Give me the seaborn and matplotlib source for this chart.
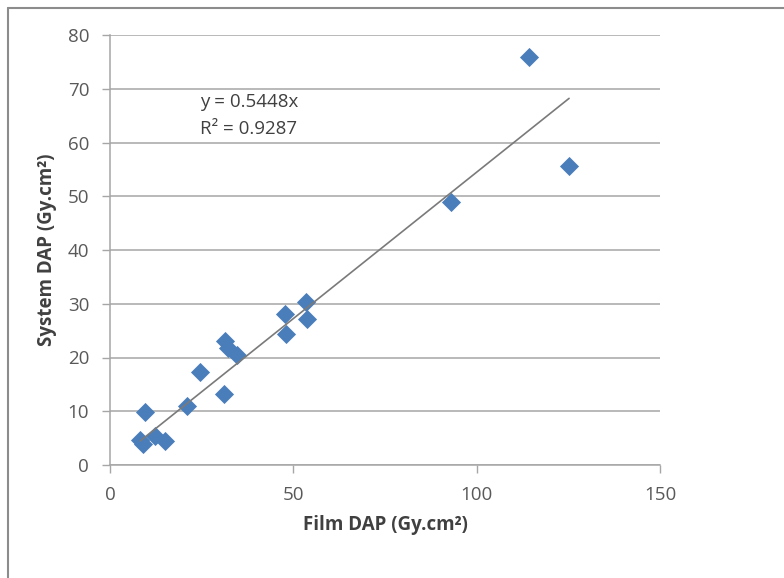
import matplotlib
matplotlib.use("Agg")
import matplotlib.pyplot as plt
import seaborn as sns
import pandas as pd
from matplotlib.lines import Line2D

# values
film_dap = [114.3, 125.2, 93.0, 53.5, 47.7, 53.7, 48.0, 31.4, 32.2, 34.6,
            24.5, 21.0, 31.1, 9.5, 8.2, 9.0, 12.3, 15.0]
system_dap = [75.9, 55.6, 48.9, 30.3, 28.1, 27.2, 24.4, 23.1, 21.8, 20.5,
              17.3, 11.0, 13.2, 9.9, 4.7, 4.0, 5.4, 4.5]
slope = 0.5448
r_squared = 0.9287
x_ticks = [0, 50, 100, 150]
y_ticks = [0, 10, 20, 30, 40, 50, 60, 70, 80]

df = pd.DataFrame({'film': film_dap, 'system': system_dap})

sns.set_style('white')
plt.rcParams['font.family'] = ['Open Sans', 'DejaVu Sans']

fig = plt.figure(figsize=(7.84, 5.78), dpi=100)
ax = fig.add_axes([110 / 784, 1 - 465 / 578, 550 / 784, 430 / 578])

# horizontal gridlines
for yv in y_ticks:
    ax.axhline(yv, color='#a6a6a6', lw=1.1, zorder=0)

sns.scatterplot(data=df, x='film', y='system', marker='D', s=95,
                color='#4a7ebb', edgecolor='#4a7ebb', linewidth=0,
                ax=ax, zorder=3)

# linear trendline through origin
x_line = [min(film_dap), max(film_dap)]
ax.plot(x_line, [slope * v for v in x_line], color='#7a7a7a', lw=1.2,
        zorder=4)

ax.text(24.5, 66.6, f'y = {slope}x', fontsize=13.5, color='#404040')
ax.text(24.5, 61.6, f'R\u00b2 = {r_squared}', fontsize=13.5, color='#404040')

ax.set_xlim(0, 150)
ax.set_ylim(0, 80)
ax.set_xticks(x_ticks)
ax.set_yticks(y_ticks)
ax.tick_params(axis='both', which='both', direction='out', length=6,
               width=1, color='#a6a6a6', labelcolor='#595959',
               labelsize=13.5, left=True, bottom=True)
ax.tick_params(axis='y', pad=9)
ax.tick_params(axis='x', pad=9)

for side in ['top', 'right']:
    ax.spines[side].set_visible(False)
for side in ['left', 'bottom']:
    ax.spines[side].set_color('#a6a6a6')
    ax.spines[side].set_linewidth(1.1)

ax.set_xlabel('Film DAP (Gy.cm\u00b2)', fontsize=13.5, fontweight='bold',
              color='#404040', labelpad=8)
ax.set_ylabel('System DAP (Gy.cm\u00b2)', fontsize=13.5, fontweight='bold',
              color='#404040', labelpad=8)

# chart area border (top and left edges visible)
fig.add_artist(Line2D([8 / 784, 1], [1 - 8 / 578, 1 - 8 / 578],
                      transform=fig.transFigure, color='#8c8c8c', lw=1.5))
fig.add_artist(Line2D([8 / 784, 8 / 784], [0, 1 - 8 / 578],
                      transform=fig.transFigure, color='#8c8c8c', lw=1.5))

fig.savefig('out.png', dpi=100, facecolor='white')
